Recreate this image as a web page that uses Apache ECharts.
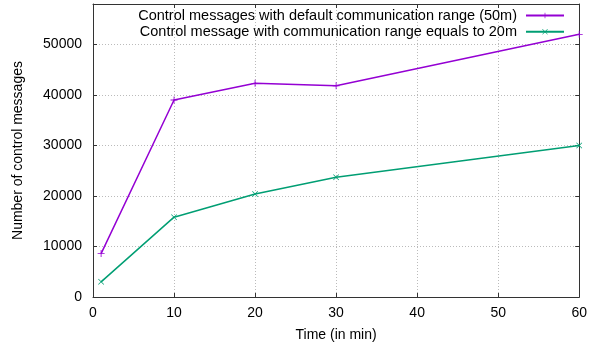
<!DOCTYPE html>
<html>
<head>
<meta charset="utf-8">
<script src="https://cdn.jsdelivr.net/npm/echarts@6/dist/echarts.min.js"></script>
<style>html,body{margin:0;padding:0;background:#fff}#c{width:590px;height:347px}</style>
</head>
<body>
<div id="c"></div>
<script>
var timesMin = [1, 10, 20, 30, 60];
var msgsDefault50m = [8600, 39000, 42300, 41800, 52000];
var msgsRange20m = [3000, 15800, 20400, 23700, 30000];
var seriesNames = ['Control messages with default communication range (50m)', 'Control message with communication range equals to 20m'];
var xTitle = 'Time (in min)';
var yTitle = 'Number of control messages';

var FONT = 'Liberation Sans';
var plusPath = 'path://M0,4.4H10V5.6H0Z M4.4,0H5.6V10H4.4Z';
var crossPath = 'path://M0,0.8L0.8,0L10,9.2L9.2,10Z M9.2,0L10,0.8L0.8,10L0,9.2Z';

function pairs(xs, ys) { return xs.map(function (x, i) { return [x, ys[i]]; }); }

var chart = echarts.init(document.getElementById('c'), null, { renderer: 'canvas' });
var axisLineStyle = { color: '#333', width: 1 };
var gridLine = { show: true, lineStyle: { color: '#bbb', type: [1, 2], width: 1 } };
chart.setOption({
  animation: false,
  backgroundColor: '#fff',
  grid: { left: 93, right: 8, top: 4, bottom: 50 },
  legend: {
    orient: 'vertical', right: 25, top: 8, align: 'right', padding: 0,
    itemWidth: 38, itemHeight: 7, itemGap: 1.3,
    textStyle: { fontFamily: FONT, fontSize: 14.5, color: '#000', lineHeight: 14, padding: [0, 4, 0, 0] },
    data: seriesNames
  },
  xAxis: [{
    type: 'value', min: 0, max: 60, interval: 10,
    name: xTitle, nameLocation: 'middle', nameGap: 31,
    nameTextStyle: { fontFamily: FONT, fontSize: 14, color: '#000' },
    axisLine: { show: true, lineStyle: axisLineStyle },
    axisTick: { show: true, inside: true, length: 4, lineStyle: axisLineStyle },
    axisLabel: { fontFamily: FONT, fontSize: 14, color: '#000', margin: 9 },
    splitLine: gridLine
  }, {
    type: 'value', min: 0, max: 60, interval: 10, position: 'top',
    axisLine: { show: true, onZero: false, lineStyle: axisLineStyle },
    axisTick: { show: true, inside: true, length: 4, lineStyle: axisLineStyle },
    axisLabel: { show: false }, splitLine: { show: false }
  }],
  yAxis: [{
    type: 'value', min: 0, max: 58000, interval: 10000,
    name: yTitle, nameLocation: 'middle', nameGap: 68,
    nameTextStyle: { fontFamily: FONT, fontSize: 14, color: '#000' },
    axisLine: { show: true, lineStyle: axisLineStyle },
    axisTick: { show: true, inside: true, length: 4, lineStyle: axisLineStyle },
    axisLabel: { fontFamily: FONT, fontSize: 14, color: '#000', margin: 11,
      formatter: function (v) { return v % 10000 === 0 ? String(v) : ''; } },
    splitLine: gridLine
  }, {
    type: 'value', min: 0, max: 58000, interval: 10000, position: 'right',
    axisLine: { show: true, onZero: false, lineStyle: axisLineStyle },
    axisTick: { show: true, inside: true, length: 4, lineStyle: axisLineStyle },
    axisLabel: { show: false }, splitLine: { show: false }
  }],
  series: [{
    name: seriesNames[0], type: 'line', data: pairs(timesMin, msgsDefault50m),
    symbol: plusPath, symbolSize: 7, showAllSymbol: true,
    lineStyle: { color: '#9400D3', width: 1.5 },
    itemStyle: { color: '#9400D3' }
  }, {
    name: seriesNames[1], type: 'line', data: pairs(timesMin, msgsRange20m),
    symbol: crossPath, symbolSize: 6, showAllSymbol: true,
    lineStyle: { color: '#009E73', width: 1.5 },
    itemStyle: { color: '#009E73' }
  }]
});
</script>
</body>
</html>
